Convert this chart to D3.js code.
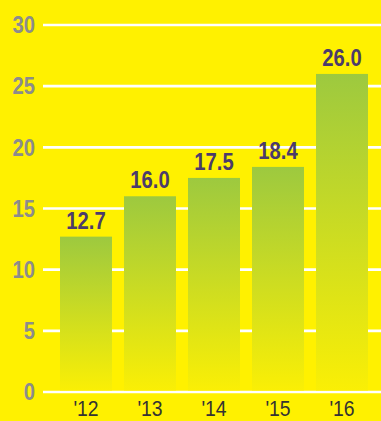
<!DOCTYPE html>
<html>
<head>
<meta charset="utf-8">
<script src="https://cdn.jsdelivr.net/npm/d3@7"></script>
<style>
  html, body { margin: 0; padding: 0; background: #FFF100; }
  svg { display: block; }
</style>
</head>
<body>
<svg id="chart" width="381" height="421"></svg>
<script>
const years = ["'12", "'13", "'14", "'15", "'16"];
const values = [12.7, 16.0, 17.5, 18.4, 26.0];
const yTicks = [0, 5, 10, 15, 20, 25, 30];

const width = 381, height = 421;
const font = '"Liberation Sans Narrow", "Liberation Sans", Arial, sans-serif';
const squeeze = 0.88; // condensed look of the original type
const svg = d3.select('#chart');

svg.append('rect')
  .attr('width', width).attr('height', height)
  .attr('fill', '#FFF100');

// vertical gradient, green at the top fading into yellow
const grad = svg.append('defs').append('linearGradient')
  .attr('id', 'barGrad')
  .attr('x1', 0).attr('y1', 0).attr('x2', 0).attr('y2', 1);
grad.append('stop').attr('offset', '0%').attr('stop-color', '#9DC93F');
grad.append('stop').attr('offset', '100%').attr('stop-color', '#FAEF05');

const x = d3.scaleBand()
  .domain(years)
  .range([48, 380])
  .paddingInner(0.1875)
  .paddingOuter(0.1875);

const y = d3.scaleLinear()
  .domain([0, 30])
  .range([392, 25]);

// gridlines
svg.append('g')
  .selectAll('line')
  .data(yTicks)
  .join('line')
  .attr('x1', 43).attr('x2', width)
  .attr('y1', d => y(d)).attr('y2', d => y(d))
  .attr('stroke', '#fff')
  .attr('stroke-width', 2.6);

// y tick labels
svg.append('g')
  .selectAll('text')
  .data(yTicks)
  .join('text')
  .attr('transform', d => `translate(35,${y(d)}) scale(${squeeze},1)`)
  .attr('dy', '0.36em')
  .attr('text-anchor', 'end')
  .attr('font-family', font)
  .attr('font-weight', 'bold')
  .attr('font-size', 23)
  .attr('fill', '#8C8C8C')
  .text(d => d);

// bars
svg.append('g')
  .selectAll('rect')
  .data(values)
  .join('rect')
  .attr('x', (d, i) => x(years[i]))
  .attr('y', d => y(d))
  .attr('width', x.bandwidth())
  .attr('height', d => y(0) - 1.5 - y(d))
  .attr('fill', 'url(#barGrad)');

// value labels
svg.append('g')
  .selectAll('text')
  .data(values)
  .join('text')
  .attr('transform', (d, i) =>
    `translate(${x(years[i]) + x.bandwidth() / 2},${y(d) - 8}) scale(${squeeze},1)`)
  .attr('text-anchor', 'middle')
  .attr('font-family', font)
  .attr('font-weight', 'bold')
  .attr('font-size', 23)
  .attr('fill', '#4B3B6B')
  .text(d => d.toFixed(1));

// x labels
svg.append('g')
  .selectAll('text')
  .data(years)
  .join('text')
  .attr('transform', d => `translate(${x(d) + x.bandwidth() / 2},416) scale(${squeeze},1)`)
  .attr('text-anchor', 'middle')
  .attr('font-family', font)
  .attr('font-size', 22)
  .attr('fill', '#333')
  .text(d => d);
</script>
</body>
</html>
